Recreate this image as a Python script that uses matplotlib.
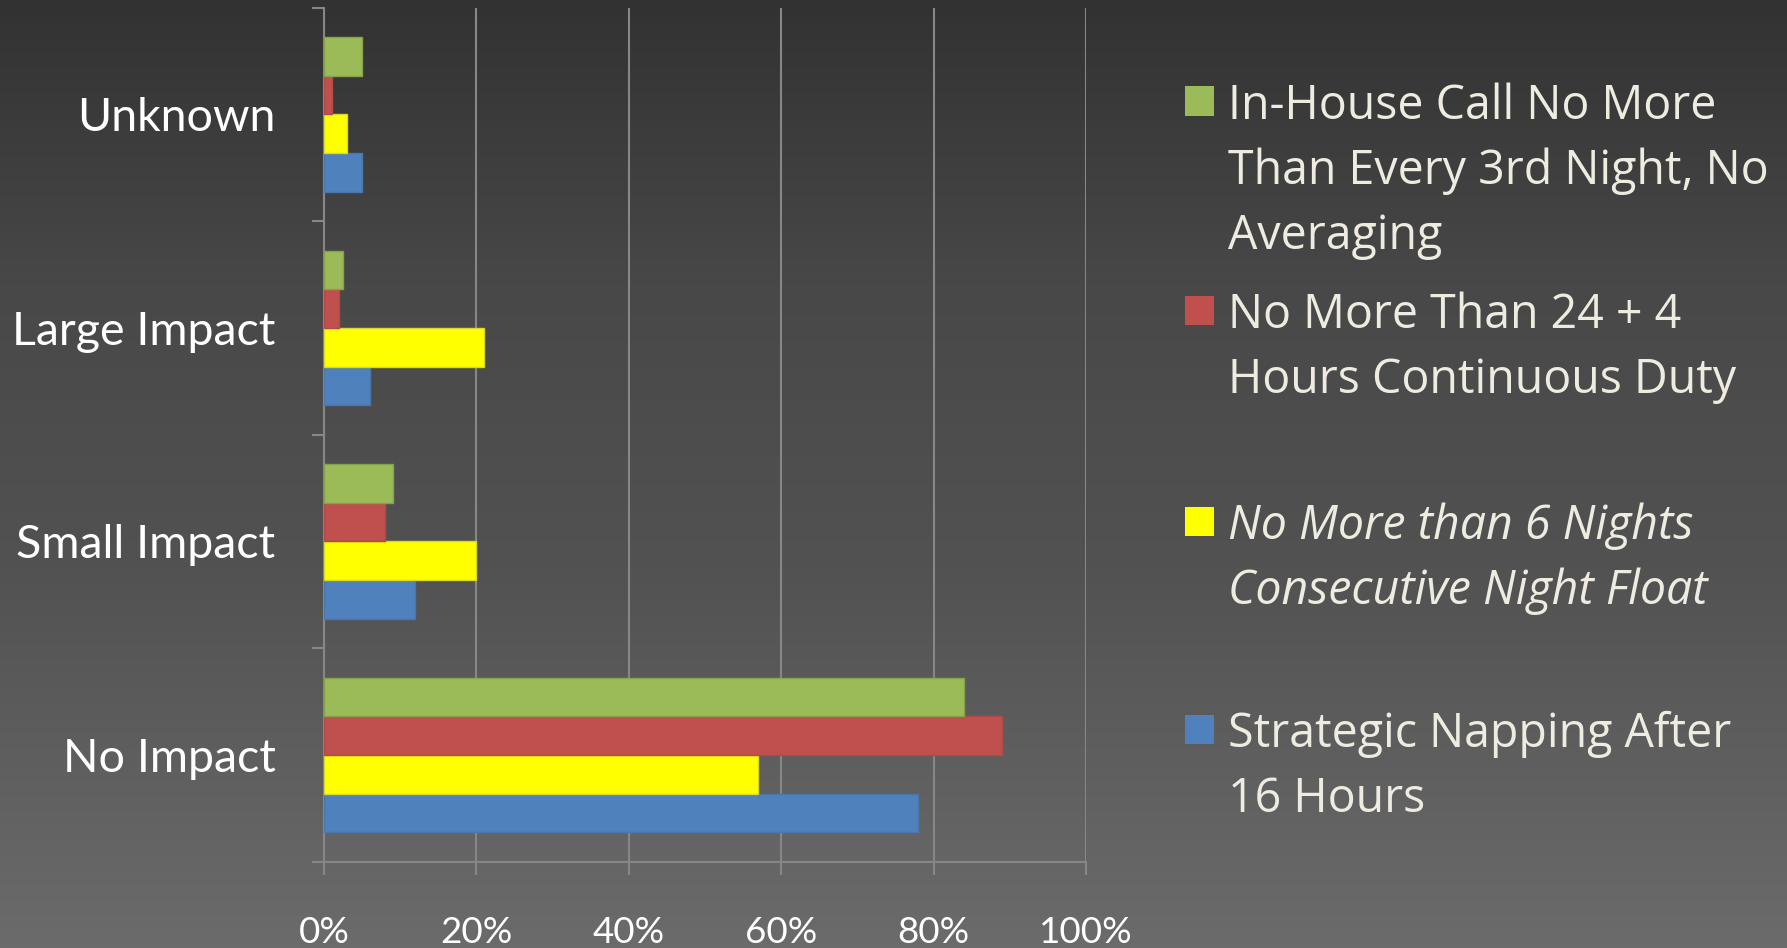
"""Horizontal grouped bar chart: impact of duty-hour rules, dark gradient slide style."""

import matplotlib
matplotlib.use("Agg")
import matplotlib.pyplot as plt
import numpy as np
from matplotlib.colors import LinearSegmentedColormap
from matplotlib.patches import Rectangle

# Categories, bottom to top as drawn on the y axis
categories = ["No Impact", "Small Impact", "Large Impact", "Unknown"]

# Series values (percent), same order as categories
strategic_napping = [78, 12, 6, 5]
six_nights = [57, 20, 21, 3]
hours_24_4 = [89, 8, 2, 1]
every_3rd_night = [84, 9, 2.5, 5]

series_values = [strategic_napping, six_nights, hours_24_4, every_3rd_night]
series_colors = ["#4F81BD", "#FFFF00", "#C0504D", "#9BBB59"]
series_edges = ["#4A76AA", "#D8D830", "#B04A47", "#86A34C"]

# Legend entries, top to bottom (lines of each label)
legend_lines = [
    ["In-House Call No More", "Than Every 3rd Night, No", "Averaging"],
    ["No More Than 24 + 4", "Hours Continuous Duty"],
    ["No More than 6 Nights", "Consecutive Night Float"],
    ["Strategic Napping After", "16 Hours"],
]
legend_colors = ["#9BBB59", "#C0504D", "#FFFF00", "#4F81BD"]
legend_italic = [False, False, True, False]

x_ticks = [0, 20, 40, 60, 80, 100]
x_tick_labels = ["0%", "20%", "40%", "60%", "80%", "100%"]

W, H = 1787, 948
fig = plt.figure(figsize=(W / 100, H / 100), dpi=100)

# Background gradient
bg = fig.add_axes([0, 0, 1, 1], zorder=-10)
bg.set_axis_off()
grad_cmap = LinearSegmentedColormap.from_list(
    "bg",
    [(0.0, "#323232"), (0.3, "#484848"), (0.6, "#525252"), (1.0, "#6b6b6b")],
)
grad = np.linspace(0, 1, 256).reshape(-1, 1)
bg.imshow(grad, aspect="auto", cmap=grad_cmap, extent=[0, 1, 0, 1], origin="upper")
bg.set_xlim(0, 1)
bg.set_ylim(0, 1)

# Plot area in pixel coordinates
left, right = 324, 1086
top, bottom = 7.7, 861.7
ax = fig.add_axes([left / W, 1 - bottom / H, (right - left) / W, (bottom - top) / H])
ax.patch.set_alpha(0)

y = np.arange(len(categories))
h = 0.181
offsets = [-1.5 * h, -0.5 * h, 0.5 * h, 1.5 * h]
for vals, off, col, ec in zip(series_values, offsets, series_colors, series_edges):
    ax.barh(y + off, vals, height=h, color=col, edgecolor=ec, linewidth=1.0, zorder=3)

ax.set_xlim(0, 100)
ax.set_ylim(-0.5, len(categories) - 0.5)

grid_col = "#878787"
ax.set_xticks(x_ticks)
ax.set_xticklabels(x_tick_labels)
ax.xaxis.grid(True, color=grid_col, linewidth=1.5, zorder=0)
ax.set_axisbelow(True)

# category boundaries as major ticks, labels on minor ticks at centres
ax.set_yticks(np.arange(-0.5, len(categories), 1.0))
ax.set_yticklabels([])
ax.set_yticks(y, minor=True)
ax.set_yticklabels(categories, minor=True)
ax.tick_params(axis="y", which="major", length=9, width=1.5, color=grid_col, direction="out")
ax.tick_params(axis="y", which="minor", length=0, pad=35, labelsize=33.5,
               labelcolor="white")
ax.tick_params(axis="x", which="major", length=9, width=1.5, color=grid_col,
               direction="out", pad=30, labelsize=26.5, labelcolor="white")
for lab in ax.get_yticklabels(minor=True) + ax.get_xticklabels():
    lab.set_fontfamily("Lato")

for side in ["top", "right"]:
    ax.spines[side].set_visible(False)
for side in ["left", "bottom"]:
    ax.spines[side].set_color(grid_col)
    ax.spines[side].set_linewidth(1.5)

# Legend drawn by hand to match the evenly spaced slots
legend_top = [101, 310, 521, 729]
line_step = 65
marker_x0, marker_size = 1185, 29
text_x = 1228
for lines, col, ital, y0 in zip(legend_lines, legend_colors, legend_italic, legend_top):
    fig.patches.append(
        Rectangle((marker_x0 / W, 1 - (y0 + marker_size / 2) / H),
                  marker_size / W, marker_size / H,
                  transform=fig.transFigure, facecolor=col, edgecolor="none")
    )
    for i, line in enumerate(lines):
        fig.text(text_x / W, 1 - (y0 + i * line_step) / H, line,
                 fontsize=33.5, family="Open Sans", color="#EEECE1",
                 style="italic" if ital else "normal",
                 ha="left", va="center_baseline")

fig.savefig("out.png", dpi=100)
